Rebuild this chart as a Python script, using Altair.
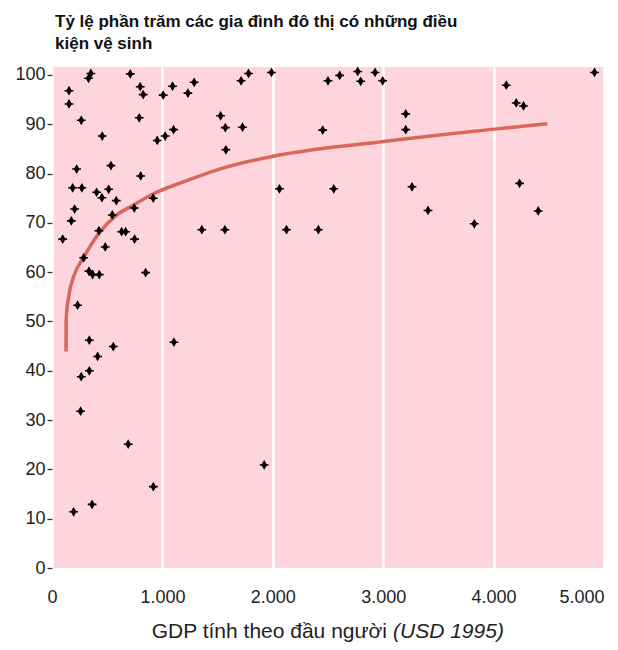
import altair as alt
import pandas as pd

# ---- data ----
gdp = [97, 154, 154, 175, 205, 187, 223, 265, 271, 331, 352, 455, 404, 452, 513,
       534, 582, 546, 425, 482, 631, 667, 748, 745, 709, 799, 826, 790, 803, 917,
       953, 1025, 1101, 1007, 1092, 1231, 1288, 1357, 1527, 1570, 1575, 1566, 1726,
       1713, 1780, 1988, 2060, 2124, 2500, 2606, 2769, 2796, 2926, 2995, 2452, 2552,
       2413, 3204, 3204, 3261, 3406, 3825, 4115, 4205, 4271, 4235, 4404, 4914, 287,
       335, 368, 428, 848, 232, 338, 555, 413, 338, 265, 259, 1104, 690, 196, 363,
       918, 1922]
pct = [66.7, 96.8, 94.1, 70.4, 72.8, 77.1, 80.9, 90.8, 77.1, 99.3, 100.3, 87.6,
       76.2, 75.1, 76.8, 81.6, 74.5, 71.6, 68.4, 65.1, 68.2, 68.2, 66.7, 73.0, 100.2,
       97.6, 96.0, 91.3, 79.5, 75.0, 86.7, 87.6, 88.9, 95.9, 97.7, 96.3, 98.5, 68.6,
       91.7, 89.3, 84.8, 68.6, 89.4, 98.8, 100.3, 100.5, 76.9, 68.6, 98.8, 99.9, 100.7,
       98.7, 100.5, 98.8, 88.8, 76.9, 68.6, 92.1, 88.9, 77.3, 72.5, 69.8, 97.9, 94.3,
       93.7, 78.0, 72.4, 100.5, 62.9, 60.2, 59.5, 59.5, 59.9, 53.3, 46.2, 44.9, 42.9,
       40.0, 38.8, 31.8, 45.8, 25.1, 11.4, 12.9, 16.5, 20.9]

curve_gdp = [127, 128, 151, 196, 287, 437, 588, 738, 919, 1190, 1491, 2003, 2395,
             2966, 3509, 4006, 4487]
curve_pct = [43.9, 50.3, 55.0, 59.1, 63.0, 68.2, 71.6, 73.6, 75.9, 78.3, 80.7, 83.5,
             84.9, 86.4, 87.8, 89.0, 90.1]

x_ticks = [0, 1000, 2000, 3000, 4000, 5000]
y_ticks = [0, 10, 20, 30, 40, 50, 60, 70, 80, 90, 100]

title_lines = ["Tỷ lệ phần trăm các gia đình đô thị có những điều", "kiện vệ sinh"]
x_title_main = "GDP tính theo đầu người"
x_title_unit = "(USD 1995)"

# ---- chart ----
FONT = "Liberation Sans"
W, H = 552, 501
MARK = ("M0,-1L0.6,0L0,1L-0.6,0Z "
        "M-0.9,-0.16L0.9,-0.16L0.9,0.16L-0.9,0.16Z")

pts = pd.DataFrame({"gdp": gdp, "pct": pct})
crv = pd.DataFrame({"gdp": curve_gdp, "pct": curve_pct, "i": list(range(len(curve_gdp)))})

x_scale = alt.Scale(domain=[0, 5000], nice=False, zero=False)
y_scale = alt.Scale(domain=[0, 101.6], nice=False)

x_axis = alt.Axis(values=x_ticks, title=None, grid=True, gridColor="white",
                  gridWidth=2.5, gridOpacity=1, ticks=False, domain=False,
                  labelPadding=20, labelFontSize=18, labelFont=FONT,
                  labelColor="#222", labelFlush=False,
                  labelAlign={"condition": {"test": "datum.value == 5000", "value": "right"},
                              "value": "center"},
                  labelExpr="replace(format(datum.value, ','), ',', '.')")
y_axis = alt.Axis(values=y_ticks, title=None, grid=False, domain=False,
                  tickSize=5, tickColor="#333", tickWidth=1.3, labelPadding=2,
                  labelFontSize=18, labelFont=FONT, labelColor="#222")

line = alt.Chart(crv).mark_line(color="#D8685A", strokeWidth=3.5,
                                interpolate="monotone").encode(
    x=alt.X("gdp:Q", scale=x_scale, axis=x_axis),
    y=alt.Y("pct:Q", scale=y_scale, axis=y_axis),
    order="i:Q",
)

points = alt.Chart(pts).mark_point(shape=MARK, filled=True, color="black",
                                   size=95, opacity=1).encode(
    x=alt.X("gdp:Q", scale=x_scale, axis=x_axis),
    y=alt.Y("pct:Q", scale=y_scale, axis=y_axis),
)

t1 = alt.Chart(pd.DataFrame({"t": [x_title_main]})).mark_text(
    align="right", baseline="alphabetic", fontSize=21, font=FONT, color="#222"
).encode(text="t:N", x=alt.value(335), y=alt.value(H + 70))

t2 = alt.Chart(pd.DataFrame({"t": [x_title_unit]})).mark_text(
    align="left", baseline="alphabetic", fontSize=21, font=FONT, color="#222",
    fontStyle="italic"
).encode(text="t:N", x=alt.value(341), y=alt.value(H + 70))

chart = alt.layer(line, points, t1, t2).properties(
    width=W, height=H,
    autosize=alt.AutoSizeParams(type="none"),
    padding={"left": 44, "top": 59, "right": 6, "bottom": 74},
    title=alt.Title(text=title_lines, anchor="start", frame="group", fontSize=17,
                    fontWeight="bold", font=FONT, color="#111",
                    lineHeight=22, offset=13, dx=3),
).configure_view(fill="#FFD5DD", strokeWidth=0)

chart.save("out.html", embed_options={"renderer": "svg", "actions": False})
